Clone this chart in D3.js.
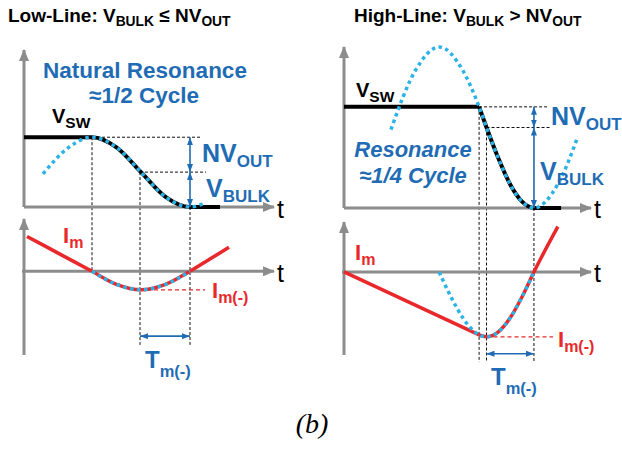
<!DOCTYPE html>
<html>
<head>
<meta charset="utf-8">
<script src="https://cdn.jsdelivr.net/npm/d3@7"></script>
<style>
  body { margin: 0; background: #fff; }
  svg { display: block; }
  text { font-family: Arial, "Liberation Sans", Helvetica, sans-serif; }
</style>
</head>
<body>
<div id="chart"></div>
<script>
// Set the size of the figure
const width = 622;
const height = 452;

// ---- Low-line panel (left) ----
// time in arbitrary units (0..10), voltage in units of V_BULK
const lowLevels = [0, 1, 2];                 // 0, V_BULK, V_BULK + NV_OUT
const lowEdges = [2.72, 4.64, 6.64];         // resonance start, Im minimum, valley
const lowVswT = [0, 2.72, 3.70, 4.68, 5.66, 6.64, 7.84];
const lowVswV = [2, 2, 1.71, 1.0, 0.29, 0, 0];
const lowResT = [0.76, 1.79, 2.72, 3.70, 4.68, 5.66, 6.64, 7.24];
const lowResV = [0.95, 1.71, 2, 1.71, 1.0, 0.29, 0, 0.12];
const lowImT = [0.12, 1.42, 2.72, 3.70, 4.68, 5.66, 6.64, 7.42, 8.2];
const lowImV = [1, 0.5, 0, -0.375, -0.53, -0.375, 0, 0.345, 0.69];
const lowImMin = -0.53;

// ---- High-line panel (right) ----
const highLevels = [0, 2.3, 2.89];           // 0, V_BULK, V_BULK + NV_OUT
const highEdges = [5.47, 5.77, 7.69];        // resonance start, Im minimum, valley
const highVswT = [5.47, 5.77, 6.25, 6.73, 7.21, 7.69, 8.79];
const highVswV = [2.89, 2.3, 1.42, 0.67, 0.18, 0, 0];
const highResT = [1.90, 2.89, 3.85, 4.81, 5.47, 5.77, 6.25, 6.73, 7.21, 7.69, 8.65, 9.47];
const highResV = [2.24, 3.93, 4.6, 3.93, 2.89, 2.3, 1.42, 0.67, 0.18, 0, 0.67, 2.04];
const highImT = [0, 5.47, 5.77, 6.25, 6.73, 7.21, 7.69, 8.66];
const highImV = [0, -0.97, -1, -0.924, -0.707, -0.383, 0, 0.7];
const highImResT = [3.85, 4.33, 4.81, 5.29, 5.47, 5.77, 6.25, 6.73, 7.21, 7.69];
const highImResV = [0, -0.383, -0.707, -0.924, -0.97, -1, -0.924, -0.707, -0.383, 0];
const highImMin = -1;

// colours
const gray = "#8c8c8c", cyan = "#2bb3e8", red = "#e8282b", blue = "#1f6cb5";

// scales, one set per panel
const xL = d3.scaleLinear().domain([0, 10]).range([24, 274]);
const yLV = d3.scaleLinear().domain([0, 4.5]).range([207, 50]);
const yLI = d3.scaleLinear().domain([-2.4, 1.5]).range([355, 219]);
const xR = d3.scaleLinear().domain([0, 10]).range([344, 591]);
const yRV = d3.scaleLinear().domain([0, 4.6]).range([208, 47]);
const yRI = d3.scaleLinear().domain([-1.28, 0.77]).range([355, 222]);

const svg = d3.select("#chart")
  .append("svg")
  .attr("width", width)
  .attr("height", height);

// arrow heads
const defs = svg.append("defs");
defs.append("marker")
  .attr("id", "axisHead")
  .attr("markerUnits", "userSpaceOnUse")
  .attr("viewBox", "0 0 12 10")
  .attr("markerWidth", 12).attr("markerHeight", 10)
  .attr("refX", 11).attr("refY", 5)
  .attr("orient", "auto")
  .append("path").attr("d", "M0,0 L12,5 L0,10 Z").attr("fill", gray);
defs.append("marker")
  .attr("id", "blueHead")
  .attr("markerUnits", "userSpaceOnUse")
  .attr("viewBox", "0 0 8 6")
  .attr("markerWidth", 8).attr("markerHeight", 6)
  .attr("refX", 8).attr("refY", 3)
  .attr("orient", "auto-start-reverse")
  .append("path").attr("d", "M0,0 L8,3 L0,6 Z").attr("fill", blue);

// line path from two parallel arrays
function path(xs, ys, ts, vs, curve) {
  return d3.line()
    .x(i => xs(ts[i]))
    .y(i => ys(vs[i]))
    .curve(curve || d3.curveLinear)(d3.range(ts.length));
}

function axis(x1, y1, x2, y2) {
  svg.append("line")
    .attr("x1", x1).attr("y1", y1).attr("x2", x2).attr("y2", y2)
    .attr("stroke", gray).attr("stroke-width", 3)
    .attr("marker-end", "url(#axisHead)");
}

function guide(x1, y1, x2, y2, color) {
  svg.append("line")
    .attr("x1", x1).attr("y1", y1).attr("x2", x2).attr("y2", y2)
    .attr("stroke", color || "#111")
    .attr("stroke-width", color ? 1.3 : 1)
    .attr("stroke-dasharray", color ? "4,3" : "3,2");
}

function dblArrow(x1, y1, x2, y2) {
  svg.append("line")
    .attr("x1", x1).attr("y1", y1).attr("x2", x2).attr("y2", y2)
    .attr("stroke", blue).attr("stroke-width", 1.6)
    .attr("marker-start", "url(#blueHead)")
    .attr("marker-end", "url(#blueHead)");
}

function stroke(d, color, w, dash) {
  svg.append("path")
    .attr("d", d)
    .attr("fill", "none")
    .attr("stroke", color)
    .attr("stroke-width", w)
    .attr("stroke-dasharray", dash || null);
}

// text with subscripts: parts = [[text, isSub], ...]
function rich(x, y, parts, o) {
  const t = svg.append("text")
    .attr("x", x).attr("y", y)
    .attr("fill", o.fill || "#000")
    .attr("font-weight", o.weight || "bold")
    .attr("font-style", o.style || "normal")
    .attr("text-anchor", o.anchor || "start");
  let low = false;
  parts.forEach(function(p) {
    const ts = t.append("tspan").text(p[0]).attr("font-size", p[1] ? o.sub : o.size);
    if (p[1] && !low) { ts.attr("dy", o.shift); low = true; }
    else if (!p[1] && low) { ts.attr("dy", -o.shift); low = false; }
  });
  return t;
}

// ---------- LEFT PANEL ----------
// guides
guide(xL(lowEdges[0]), yLV(lowLevels[2]), xL(7.04), yLV(lowLevels[2]));
guide(xL(lowEdges[1]), yLV(lowLevels[1]), xL(7.28), yLV(lowLevels[1]));
guide(xL(lowEdges[0]), yLV(lowLevels[2]), xL(lowEdges[0]), yLI(0));
guide(xL(lowEdges[1]), yLV(lowLevels[1]), xL(lowEdges[1]), yLI(-2.11));
guide(xL(lowEdges[2]), yLV(lowLevels[0]), xL(lowEdges[2]), yLI(-2.11));
guide(xL(lowEdges[1]), yLI(lowImMin), xL(7.24), yLI(lowImMin), red);

// axes
axis(xL(0), yLV(0), xL(0), yLV(4.5));
axis(xL(0), yLV(0), xL(10), yLV(0));
axis(xL(0), yLI(-2.4), xL(0), yLI(1.5));
axis(xL(-0.08), yLI(0), xL(10), yLI(0));

// waveforms
stroke(path(xL, yLV, lowVswT, lowVswV, d3.curveMonotoneX), "#000", 4);
stroke(path(xL, yLV, lowResT, lowResV, d3.curveMonotoneX), cyan, 3.5, "3.5,3.5");
stroke(path(xL, yLI, lowImT, lowImV, d3.curveMonotoneX), red, 3.5);
stroke(path(xL, yLI, lowImT.slice(2, 7), lowImV.slice(2, 7), d3.curveMonotoneX), cyan, 3.5, "3.5,3.5");

// dimension arrows
dblArrow(xL(lowEdges[2]), yLV(lowLevels[2]), xL(lowEdges[2]), yLV(lowLevels[1]));
dblArrow(xL(lowEdges[2]), yLV(lowLevels[1]), xL(lowEdges[2]), yLV(lowLevels[0]));
dblArrow(xL(lowEdges[1]), yLI(-1.86), xL(lowEdges[2]), yLI(-1.86));

// ---------- RIGHT PANEL ----------
guide(xR(highEdges[0]), yRV(highLevels[2]), xR(8.26), yRV(highLevels[2]));
guide(xR(highEdges[1]), yRV(highLevels[1]), xR(8.38), yRV(highLevels[1]));
guide(xR(highEdges[0]), yRV(highLevels[2]), xR(highEdges[0]), yRI(-1.39));
guide(xR(highEdges[1]), yRV(highLevels[1]), xR(highEdges[1]), yRI(-1.39));
guide(xR(highEdges[2]), yRV(highLevels[0]), xR(highEdges[2]), yRI(-1.39));
guide(xR(highEdges[1]), yRI(highImMin), xR(8.46), yRI(highImMin), red);

axis(xR(0), yRV(0), xR(0), yRV(4.6));
axis(xR(0), yRV(0), xR(10), yRV(0));
axis(xR(0), yRI(-1.28), xR(0), yRI(0.77));
axis(xR(-0.08), yRI(0), xR(10), yRI(0));

stroke(path(xR, yRV, [0, highEdges[0]], [highLevels[2], highLevels[2]]), "#000", 4);
stroke(path(xR, yRV, highVswT, highVswV, d3.curveMonotoneX), "#000", 4);
stroke(path(xR, yRV, highResT, highResV, d3.curveMonotoneX), cyan, 3.5, "3.5,3.5");
stroke(path(xR, yRI, highImT.slice(0, 2), highImV.slice(0, 2)), red, 3.5);
stroke(path(xR, yRI, highImT.slice(1), highImV.slice(1), d3.curveMonotoneX), red, 3.5);
stroke(path(xR, yRI, highImResT, highImResV, d3.curveMonotoneX), cyan, 3.5, "3.5,3.5");

dblArrow(xR(highEdges[2]), yRV(highLevels[2]), xR(highEdges[2]), yRV(highLevels[1]));
dblArrow(xR(highEdges[2]), yRV(highLevels[1]), xR(highEdges[2]), yRV(highLevels[0]));
dblArrow(xR(highEdges[1]), yRI(-1.26), xR(highEdges[2]), yRI(-1.26));

// ---------- TEXT ----------
const title = { size: 19, sub: 13.8, shift: 3.5 };
rich(8, 22, [["Low-Line: V"], ["BULK", 1], [" \u2264 NV"], ["OUT", 1]], title);
rich(354, 22, [["High-Line: V"], ["BULK", 1], [" > NV"], ["OUT", 1]], title);

// blue captions
svg.append("text").attr("x", 145).attr("y", 78).attr("text-anchor", "middle")
  .attr("fill", blue).attr("font-weight", "bold").attr("font-size", 22.5)
  .text("Natural Resonance");
svg.append("text").attr("x", 144).attr("y", 103).attr("text-anchor", "middle")
  .attr("fill", blue).attr("font-weight", "bold").attr("font-size", 22.5)
  .text("\u22481/2 Cycle");
svg.append("text").attr("x", 413).attr("y", 157).attr("text-anchor", "middle")
  .attr("fill", blue).attr("font-weight", "bold").attr("font-style", "italic").attr("font-size", 22)
  .text("Resonance");
svg.append("text").attr("x", 413).attr("y", 183).attr("text-anchor", "middle")
  .attr("fill", blue).attr("font-weight", "bold").attr("font-style", "italic").attr("font-size", 22)
  .text("\u22481/4 Cycle");

// voltage labels
const vsw = { size: 20, sub: 15.5, shift: 5 };
rich(52, 123, [["V"], ["SW", 1]], vsw);
rich(356, 97, [["V"], ["SW", 1]], vsw);
const big = { size: 25, sub: 17, shift: 5, fill: blue };
rich(202, 162, [["NV"], ["OUT", 1]], big);
rich(206, 197, [["V"], ["BULK", 1]], big);
rich(551, 125, [["NV"], ["OUT", 1]], big);
rich(540, 180, [["V"], ["BULK", 1]], big);

// current labels
const im = { size: 22, sub: 16, shift: 5, fill: red };
rich(63, 243, [["I"], ["m", 1]], im);
rich(355, 260, [["I"], ["m", 1]], im);
rich(212, 298, [["I"], ["m(-)", 1]], im);
rich(558, 347, [["I"], ["m(-)", 1]], im);
const tm = { size: 24, sub: 16.5, shift: 9, fill: blue };
rich(145, 368, [["T"], ["m(-)", 1]], tm);
rich(491, 385, [["T"], ["m(-)", 1]], tm);

// time axis labels
[[277, 218], [277, 282], [594, 218], [594, 282]].forEach(function(p) {
  svg.append("text").attr("x", p[0]).attr("y", p[1])
    .attr("font-size", 25).text("t");
});

// figure tag
svg.append("text").attr("x", 312).attr("y", 433).attr("text-anchor", "middle")
  .attr("font-size", 28).attr("font-style", "italic")
  .style("font-family", "'Times New Roman', 'Liberation Serif', serif")
  .text("(b)");
</script>
</body>
</html>
